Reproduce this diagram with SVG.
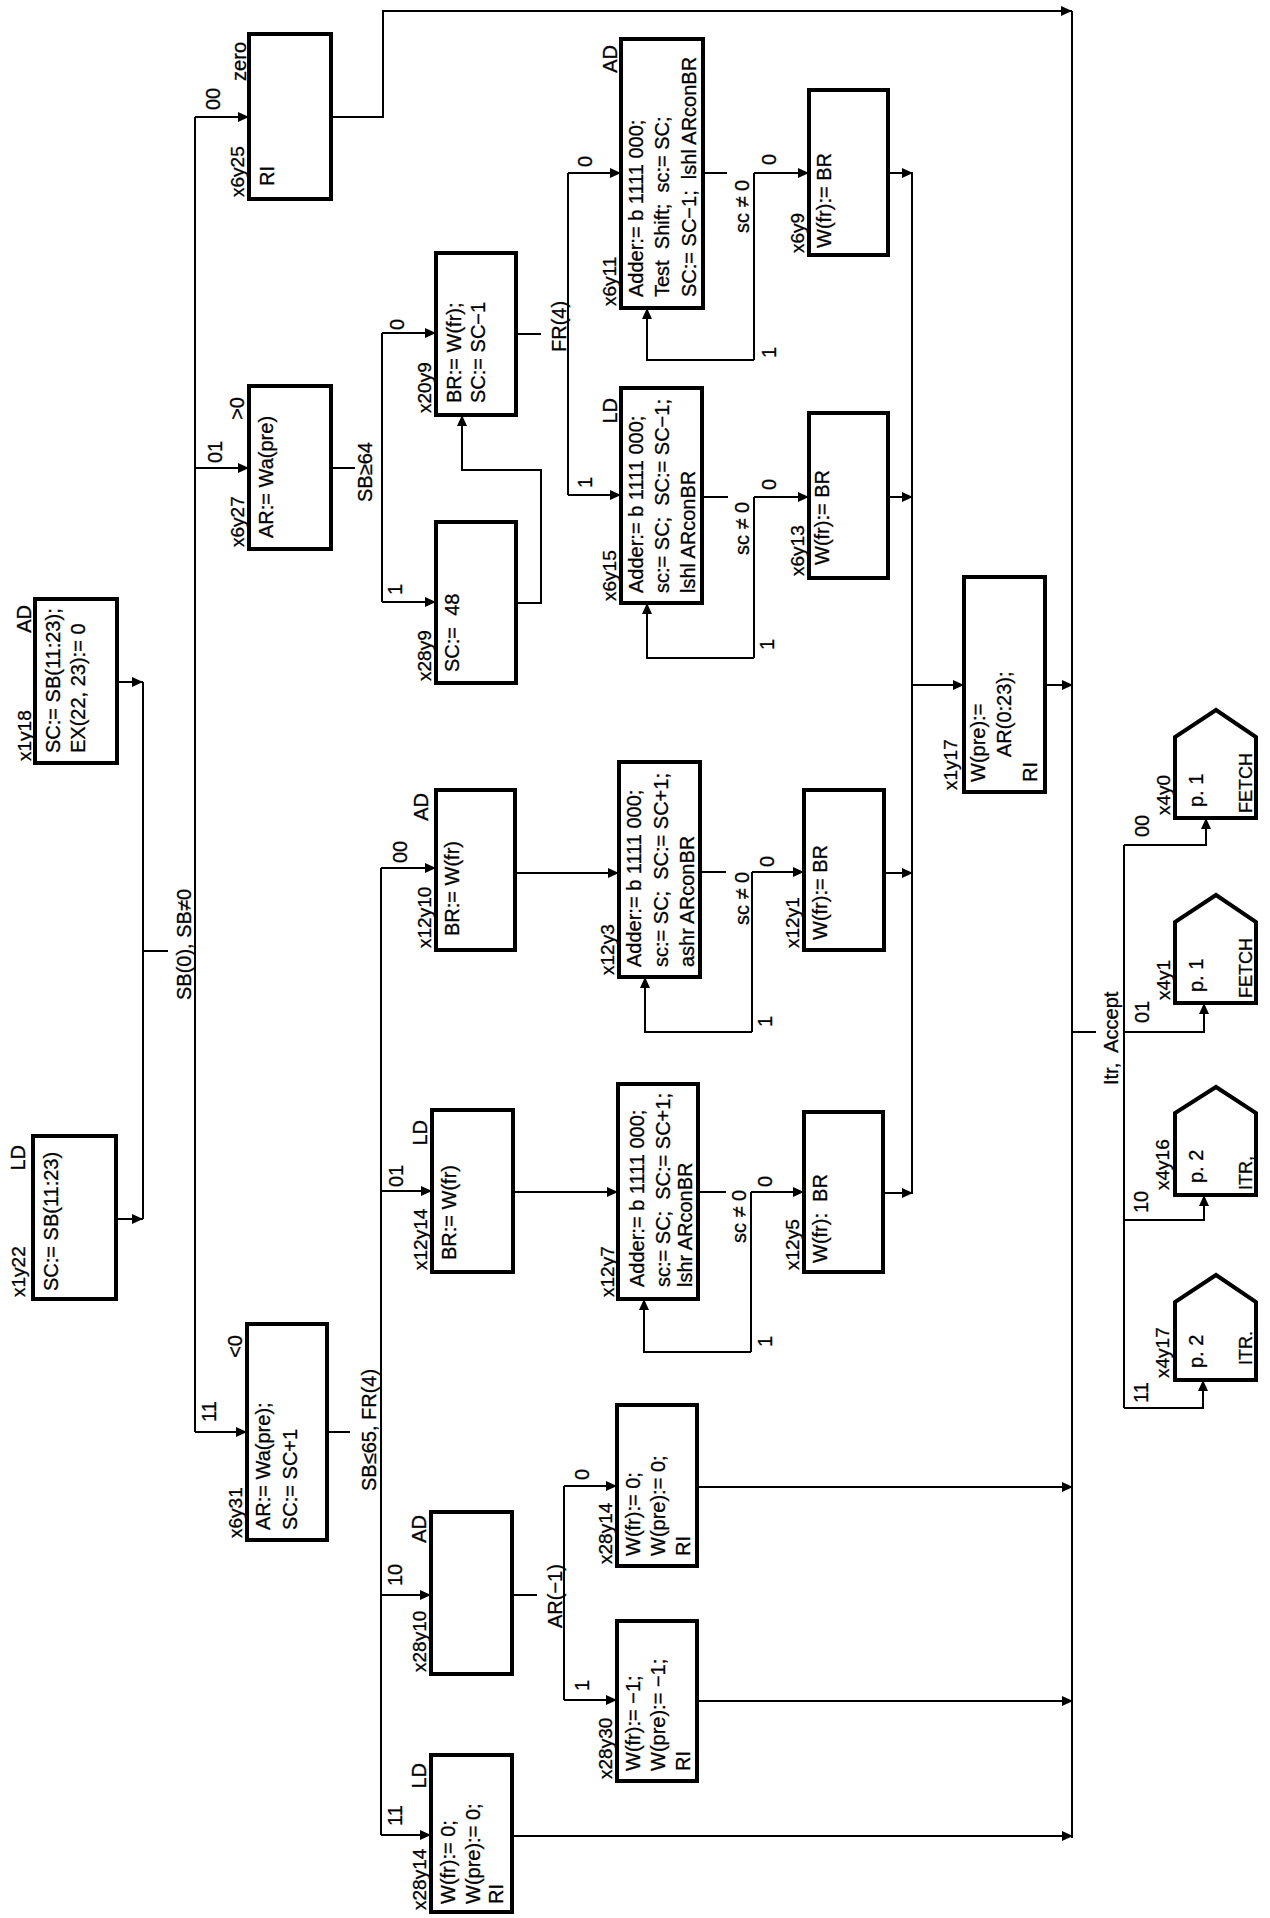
<svg xmlns="http://www.w3.org/2000/svg" width="1270" height="1918" viewBox="0 0 1270 1918" xml:space="preserve">
<defs>
<marker id="ah" markerUnits="userSpaceOnUse" markerWidth="12" markerHeight="10" refX="11" refY="5" orient="auto">
<path d="M0,0 L11,5 L0,10 z" fill="#000"/>
</marker>
<style>
.box{fill:#fff;stroke:#000;stroke-width:4;stroke-linejoin:miter}
.ln{fill:none;stroke:#000;stroke-width:2}
.ar{marker-end:url(#ah)}
text{font-family:"Liberation Sans",Arial,sans-serif;font-size:20px;fill:#000;white-space:pre;stroke:#000;stroke-width:0.3}
.nm{font-size:19px}
.sm{font-size:18px}
.r{text-anchor:end}
</style>
</defs>
<rect x="0" y="0" width="1270" height="1918" fill="#fff"/>
<g transform="translate(0,1918) rotate(-90)">
<g id="connectors">
<path class="ln" d="M1801,195 L486,195"/>
<path class="ln ar" d="M1801,195 L1801,249"/>
<path class="ln ar" d="M1450,195 L1450,249"/>
<path class="ln ar" d="M486,195 L486,247"/>
<path class="ln ar" d="M1236,117 L1236,143"/>
<path class="ln ar" d="M699,116 L699,143"/>
<path class="ln" d="M1236,143 L699,143"/>
<path class="ln" d="M967,143 L967,168"/>
<path class="ln ar" d="M1801,331 L1801,383 L1907,383 L1907,1072"/>
<path class="ln" d="M1907,1072 L80,1072"/>
<path class="ln" d="M1450,331 L1450,355"/>
<path class="ln" d="M1585,382 L1316,382"/>
<path class="ln ar" d="M1585,382 L1585,436"/>
<path class="ln ar" d="M1316,382 L1316,436"/>
<path class="ln ar" d="M1315,516 L1315,541 L1448,541 L1448,462 L1503,462"/>
<path class="ln" d="M1584,516 L1584,541"/>
<path class="ln" d="M1745,568 L1423,568"/>
<path class="ln ar" d="M1745,568 L1745,621"/>
<path class="ln ar" d="M1423,568 L1423,621"/>
<path class="ln" d="M1745,703 L1745,727"/>
<path class="ln" d="M1745,754 L1558,754"/>
<path class="ln ar" d="M1745,754 L1745,809"/>
<path class="ln ar" d="M1558,754 L1558,647 L1610,647"/>
<path class="ln" d="M1421,702 L1421,728"/>
<path class="ln" d="M1421,754 L1260,754"/>
<path class="ln ar" d="M1421,754 L1421,809"/>
<path class="ln ar" d="M1260,754 L1260,647 L1315,647"/>
<path class="ln ar" d="M1045,515 L1045,619"/>
<path class="ln" d="M1046,700 L1046,726"/>
<path class="ln" d="M1046,752 L886,752"/>
<path class="ln ar" d="M1046,752 L1046,804"/>
<path class="ln ar" d="M886,752 L886,645 L941,645"/>
<path class="ln ar" d="M726,513 L726,618"/>
<path class="ln" d="M726,698 L726,726"/>
<path class="ln" d="M726,751 L566,751"/>
<path class="ln ar" d="M726,751 L726,804"/>
<path class="ln ar" d="M566,751 L566,644 L619,644"/>
<path class="ln" d="M1745,912 L725,912"/>
<path class="ln ar" d="M1745,888 L1745,913"/>
<path class="ln ar" d="M1421,888 L1421,913"/>
<path class="ln ar" d="M1045,884 L1045,913"/>
<path class="ln ar" d="M725,883 L725,913"/>
<path class="ln ar" d="M1233,912 L1233,964"/>
<path class="ln ar" d="M1233,1045 L1233,1073"/>
<path class="ln" d="M486,327 L486,350"/>
<path class="ln" d="M1050,381 L83,381"/>
<path class="ln ar" d="M1050,381 L1050,436"/>
<path class="ln ar" d="M727,381 L727,432"/>
<path class="ln ar" d="M323,381 L323,431"/>
<path class="ln ar" d="M83,381 L83,431"/>
<path class="ln" d="M323,512 L323,537"/>
<path class="ln" d="M432,564 L218,564"/>
<path class="ln ar" d="M432,564 L432,617"/>
<path class="ln ar" d="M218,564 L218,617"/>
<path class="ln ar" d="M431,697 L431,1073"/>
<path class="ln ar" d="M217,697 L217,1073"/>
<path class="ln ar" d="M82,512 L82,1073"/>
<path class="ln" d="M886,1072 L886,1096"/>
<path class="ln" d="M1073,1124 L510,1124"/>
<path class="ln ar" d="M1073,1124 L1073,1206 L1100,1206"/>
<path class="ln ar" d="M886,1124 L886,1204 L915,1204"/>
<path class="ln ar" d="M698,1124 L698,1204 L723,1204"/>
<path class="ln ar" d="M510,1124 L510,1203 L538,1203"/>
</g>
<g id="edge-labels">
<text x="1808" y="220">00</text>
<text x="1455" y="222">01</text>
<text x="496" y="216">11</text>
<text x="918" y="191">SB(0), SB≠0</text>
<text x="1416" y="372">SB≥64</text>
<text x="1588" y="404">0</text>
<text x="1323" y="402">1</text>
<text x="1566" y="566">FR(4)</text>
<text x="1751" y="592">0</text>
<text x="1430" y="592">1</text>
<text x="1685" y="749">sc ≠ 0</text>
<text x="1753" y="776">0</text>
<text x="1560" y="776">1</text>
<text x="1363" y="749">sc ≠ 0</text>
<text x="1428" y="776">0</text>
<text x="1268" y="774">1</text>
<text x="993" y="749">sc ≠ 0</text>
<text x="1051" y="774">0</text>
<text x="891" y="772">1</text>
<text x="675" y="746">sc ≠ 0</text>
<text x="731" y="772">0</text>
<text x="571" y="772">1</text>
<text x="427" y="376">SB≤65, FR(4)</text>
<text x="1055" y="407">00</text>
<text x="731" y="403">01</text>
<text x="332" y="402">10</text>
<text x="92" y="402">11</text>
<text x="290" y="562">AR(−1)</text>
<text x="438" y="589">0</text>
<text x="227" y="589">1</text>
<text x="833" y="1118">Itr,  Accept</text>
<text x="1081" y="1149">00</text>
<text x="895" y="1149">01</text>
<text x="705" y="1148">10</text>
<text x="515" y="1148">11</text>
</g>
<g id="x6y25">
<rect class="box" x="1719" y="249" width="165" height="82"/>
<text x="1732" y="274">RI</text>
<text class="nm" x="1721" y="244">x6y25</text>
<text class="r" x="1876" y="246">zero</text>
</g>
<g id="x6y27">
<rect class="box" x="1369" y="249" width="163" height="82"/>
<text x="1380" y="273">AR:= Wa(pre)</text>
<text class="nm" x="1371" y="244">x6y27</text>
<text class="r" x="1521" y="244">&gt;0</text>
</g>
<g id="x6y31">
<rect class="box" x="378" y="247" width="216" height="80"/>
<text x="388" y="270">AR:= Wa(pre);</text>
<text x="388" y="297">SC:= SC+1</text>
<text class="nm" x="380" y="242">x6y31</text>
<text class="r" x="583" y="242">&lt;0</text>
</g>
<g id="x1y18">
<rect class="box" x="1155" y="35" width="164" height="82"/>
<text x="1165" y="60">SC:= SB(11:23);</text>
<text x="1165" y="85">EX(22, 23):= 0</text>
<text class="nm" x="1157" y="31">x1y18</text>
<text class="r" x="1313" y="31">AD</text>
</g>
<g id="x1y22">
<rect class="box" x="619" y="33" width="163" height="83"/>
<text x="627" y="58">SC:= SB(11:23)</text>
<text class="nm" x="621" y="25">x1y22</text>
<text class="r" x="773" y="25">LD</text>
</g>
<g id="x20y9">
<rect class="box" x="1503" y="436" width="162" height="80"/>
<text x="1515" y="461">BR:= W(fr);</text>
<text x="1515" y="485">SC:= SC−1</text>
<text class="nm" x="1505" y="431">x20y9</text>
</g>
<g id="x28y9">
<rect class="box" x="1235" y="436" width="161" height="80"/>
<text x="1246" y="459">SC:=  48</text>
<text class="nm" x="1237" y="431">x28y9</text>
</g>
<g id="x12y10">
<rect class="box" x="968" y="436" width="160" height="79"/>
<text x="982" y="459">BR:= W(fr)</text>
<text class="nm" x="970" y="431">x12y10</text>
<text class="r" x="1125" y="428">AD</text>
</g>
<g id="x12y14">
<rect class="box" x="646" y="432" width="162" height="81"/>
<text x="658" y="456">BR:= W(fr)</text>
<text class="nm" x="648" y="427">x12y14</text>
<text class="r" x="798" y="427">LD</text>
</g>
<g id="x28y10">
<rect class="box" x="244" y="431" width="162" height="81"/>
<text class="nm" x="246" y="426">x28y10</text>
<text class="r" x="403" y="426">AD</text>
</g>
<g id="x28y14-a">
<rect class="box" x="6" y="431" width="157" height="81"/>
<text x="14" y="455">W(fr):= 0;</text>
<text x="14" y="480">W(pre):= 0;</text>
<text x="14" y="503">RI</text>
<text class="nm" x="8" y="426">x28y14</text>
<text class="r" x="155" y="426">LD</text>
</g>
<g id="x6y11">
<rect class="box" x="1610" y="621" width="269" height="82"/>
<text x="1621" y="643">Adder:= b 1111 000;</text>
<text x="1621" y="669">Test  Shift;  sc:= SC;</text>
<text x="1621" y="696">SC:= SC−1;  lshl ARconBR</text>
<text class="nm" x="1612" y="616">x6y11</text>
<text class="r" x="1873" y="617">AD</text>
</g>
<g id="x6y15">
<rect class="box" x="1315" y="621" width="215" height="81"/>
<text x="1325" y="643">Adder:= b 1111 000;</text>
<text x="1325" y="669">sc:= SC;  SC:= SC−1;</text>
<text x="1325" y="695">lshl ARconBR</text>
<text class="nm" x="1317" y="616">x6y15</text>
<text class="r" x="1520" y="617">LD</text>
</g>
<g id="x12y3">
<rect class="box" x="941" y="619" width="215" height="81"/>
<text x="951" y="641">Adder:= b 1111 000;</text>
<text x="951" y="668">sc:= SC;  SC:= SC+1;</text>
<text x="951" y="694">ashr ARconBR</text>
<text class="nm" x="943" y="614">x12y3</text>
</g>
<g id="x12y7">
<rect class="box" x="619" y="618" width="215" height="80"/>
<text x="631" y="644">Adder:= b 1111 000;</text>
<text x="631" y="670">sc:= SC;  SC:= SC+1;</text>
<text x="631" y="692">lshr ARconBR</text>
<text class="nm" x="621" y="614">x12y7</text>
</g>
<g id="x28y14-b">
<rect class="box" x="352" y="617" width="161" height="80"/>
<text x="362" y="640">W(fr):= 0;</text>
<text x="362" y="665">W(pre):= 0;</text>
<text x="362" y="690">RI</text>
<text class="nm" x="354" y="612">x28y14</text>
</g>
<g id="x28y30">
<rect class="box" x="137" y="617" width="160" height="80"/>
<text x="147" y="640">W(fr):= −1;</text>
<text x="147" y="665">W(pre):= −1;</text>
<text x="147" y="690">RI</text>
<text class="nm" x="139" y="612">x28y30</text>
</g>
<g id="x6y9">
<rect class="box" x="1663" y="809" width="165" height="79"/>
<text x="1670" y="831">W(fr):= BR</text>
<text class="nm" x="1665" y="804">x6y9</text>
</g>
<g id="x6y13">
<rect class="box" x="1340" y="809" width="165" height="79"/>
<text x="1353" y="829">W(fr):= BR</text>
<text class="nm" x="1342" y="804">x6y13</text>
</g>
<g id="x12y1">
<rect class="box" x="968" y="804" width="160" height="80"/>
<text x="978" y="827">W(fr):= BR</text>
<text class="nm" x="970" y="799">x12y1</text>
</g>
<g id="x12y5">
<rect class="box" x="646" y="804" width="160" height="79"/>
<text x="655" y="827">W(fr):  BR</text>
<text class="nm" x="648" y="799">x12y5</text>
</g>
<g id="x1y17">
<rect class="box" x="1126" y="964" width="215" height="81"/>
<text x="1136" y="985">W(pre):=</text>
<text x="1161" y="1011">AR(0:23);</text>
<text x="1136" y="1037">RI</text>
<text class="nm" x="1128" y="957">x1y17</text>
</g>
<g id="x4y0">
<polygon class="box" points="1100,1175 1181,1175 1208,1216 1181,1256 1100,1256"/>
<text x="1111" y="1203">p. 1</text>
<text class="sm" x="1105" y="1252">FETCH</text>
<text class="nm" x="1103" y="1170">x4y0</text>
</g>
<g id="x4y1">
<polygon class="box" points="915,1175 996,1175 1023,1216 996,1256 915,1256"/>
<text x="926" y="1203">p. 1</text>
<text class="sm" x="920" y="1252">FETCH</text>
<text class="nm" x="918" y="1170">x4y1</text>
</g>
<g id="x4y16">
<polygon class="box" points="723,1175 805,1175 831,1216 805,1256 723,1256"/>
<text x="735" y="1203">p. 2</text>
<text class="sm" x="728" y="1252">ITR,</text>
<text class="nm" x="728" y="1169">x4y16</text>
</g>
<g id="x4y17">
<polygon class="box" points="538,1175 616,1175 643,1216 616,1256 538,1256"/>
<text x="550" y="1203">p. 2</text>
<text class="sm" x="553" y="1252">ITR.</text>
<text class="nm" x="540" y="1169">x4y17</text>
</g>
</g>
</svg>
